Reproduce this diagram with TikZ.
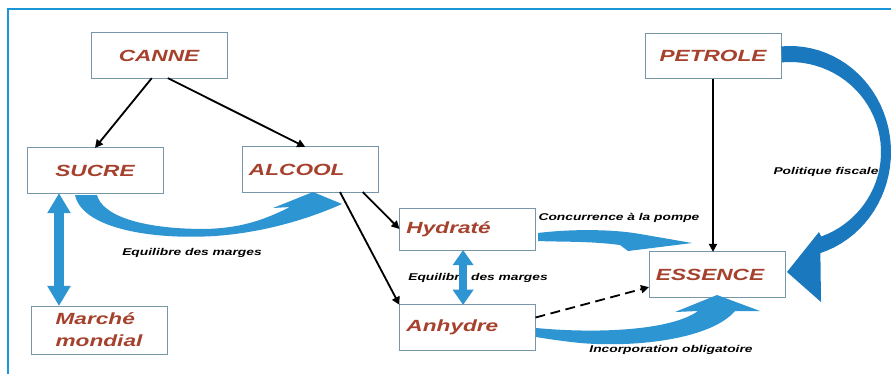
\documentclass[tikz,border=0pt]{standalone}
\usepackage{fontspec}
\setmainfont{Liberation Sans}
\usepackage{graphicx}
\usetikzlibrary{arrows.meta}

\definecolor{framebl}{RGB}{25,150,215}
\definecolor{boxline}{RGB}{120,150,170}
\definecolor{labred}{RGB}{165,65,45}
\definecolor{fatbl}{RGB}{45,150,210}
\definecolor{darkbl}{RGB}{25,120,190}

\newcommand{\wide}[1]{\scalebox{1.4}[1]{#1}}

\begin{document}
\begin{tikzpicture}[x=0.025cm,y=-0.025cm,
  box/.style={draw=boxline,line width=0.6pt,fill=white,minimum width=3.4cm,
    minimum height=1.13cm,outer sep=0pt,text=labred,
    font=\fontsize{11.5}{15.5}\selectfont\bfseries\itshape},
  lbox/.style={box,text width=3.05cm,inner xsep=0.175cm,align=left},
  tag/.style={font=\fontsize{7}{8}\selectfont\bfseries\itshape},
  blk/.style={line width=1.3pt,-{Triangle[length=0.2cm,width=0.2cm]}},
  fat/.style={fatbl,line width=#1}]
\useasboundingbox (0,0) rectangle (891,374);
\fill[white] (0,0) rectangle (891,374);
\draw[framebl,line width=1.2pt] (8,374) -- (8,9) -- (891,9);

% boxes
\node[box] (canne) at (159,55.5) {\wide{CANNE}};
\node[box] (sucre) at (95,170.5) {\wide{SUCRE}};
\node[lbox] (alcool) at (310,169.5) {\wide{ALCOOL}};
\node[lbox,minimum height=1.05cm] (hydrate) at (467.5,229) {\wide{Hydraté}};
\node[lbox] (anhydre) at (467.5,327.5) {\wide{Anhydre}};
\node[box,align=left,minimum height=1.2cm] (marche) at (99,330)
  {\wide{Marché}\\\wide{mondial}};
\node[box] (petrole) at (713,56) {\wide{PETROLE}};
\node[lbox] (essence) at (717,274.5) {\wide{ESSENCE}};

% black arrows
\draw[blk] ([xshift=-0.18cm]canne.south) -- (sucre.north);
\draw[blk] ([xshift=0.22cm]canne.south) -- ([xshift=-0.12cm]alcool.north);
\draw[blk] ([xshift=-0.38cm]alcool.south east) -- (hydrate.west);
\draw[blk] ([xshift=-0.95cm]alcool.south east) -- (anhydre.north west);
\draw[blk] (petrole.south) -- (petrole.south |- essence.north);
\draw[blk,dashed,dash pattern=on 7pt off 4pt]
  ([yshift=0.25cm]anhydre.east) -- ([yshift=0.25cm]essence.south west);

% labels
\node[tag] (lab1) at (192,253) {\wide{Equilibre des marges}};
\node[tag] (lab2) at (478,278) {\wide{Equilibre des marges}};
\node[tag] (lab3) at (619,218) {\wide{Concurrence à la pompe}};
\node[tag] (lab4) at (671,350) {\wide{Incorporation obligatoire}};

% blue arrows
\draw[fat=0.25cm,{Triangle[length=0.5cm,width=0.55cm]}-{Triangle[length=0.5cm,width=0.55cm]}]
  ([xshift=-0.9cm]sucre.south) -- ([xshift=-0.9cm]sucre.south |- marche.north);
\draw[fat=0.2cm,{Triangle[length=0.38cm,width=0.5cm]}-{Triangle[length=0.38cm,width=0.5cm]}]
  ([xshift=-0.11cm]hydrate.south) -- ([xshift=-0.11cm]hydrate.south |- anhydre.north);
% sucre -> alcool
\fill[fatbl] (75,195) .. controls (82,228) and (150,240) .. (215,236)
  .. controls (270,232) and (315,216) .. (342,204) -- (313,192) -- (273,208)
  -- (290,207) .. controls (262,221) and (240,228) .. (205,229)
  .. controls (140,229) and (102,215) .. (97,195) -- cycle;
% hydrate -> essence
\fill[fatbl] (538,233) .. controls (570,229) and (612,229) .. (640,234)
  -- (692,243) -- (628,251) -- (620,245)
  .. controls (590,241) and (560,242) .. (538,241) -- cycle;
% anhydre -> essence
\fill[fatbl] (536,328) .. controls (600,334) and (672,330) .. (698,311)
  -- (675,312) -- (717,295) -- (760,311) -- (735,311)
  .. controls (712,338) and (640,348) .. (580,343)
  .. controls (562,341) and (548,339) .. (536,337) -- cycle;
% petrole -> essence
\fill[darkbl] plot[domain=-95:72.5,samples=40,variable=\t]
  ({790+101*cos(\t)},{152+106*sin(\t)}) -- (821,302) -- (787,272) -- (819,232)
  -- plot[domain=70:-95,samples=40,variable=\t]
  ({790+91*cos(\t)},{152+90*sin(\t)}) -- cycle;
\node[tag] (lab5) at (826,172) {\wide{Politique fiscale}};
\end{tikzpicture}
\end{document}
